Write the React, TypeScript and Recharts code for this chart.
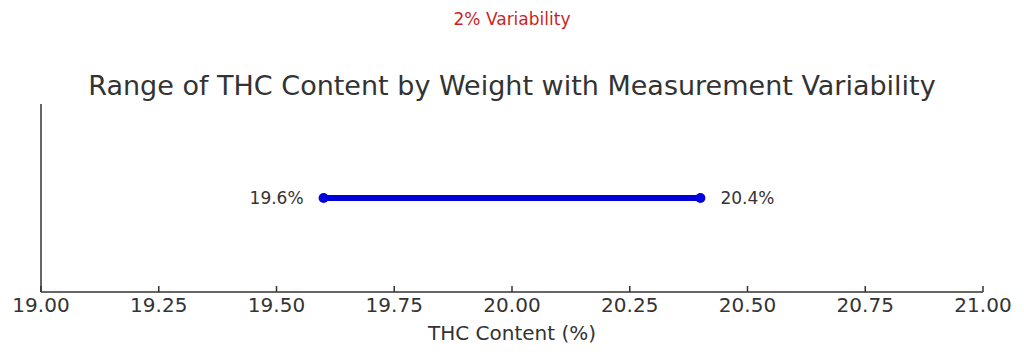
import React from 'react';
import { LineChart, Line, XAxis, YAxis, LabelList } from 'recharts';

const rangeLow = 19.6;
const rangeHigh = 20.4;
const rangeLabels = ['19.6%', '20.4%'];
const xTicks = [19, 19.25, 19.5, 19.75, 20, 20.25, 20.5, 20.75, 21];

const data = [
    { thc: rangeLow, row: 1, label: rangeLabels[0] },
    { thc: rangeHigh, row: 1, label: rangeLabels[1] },
];

const FONT = '"DejaVu Sans", sans-serif';
const INK = '#333333';

const EndLabel = (props: any) => {
    const { x, y, index, value } = props;
    const left = index === 0;
    return (
        <text
            x={left ? x - 20 : x + 20}
            y={y}
            dy="0.35em"
            textAnchor={left ? 'end' : 'start'}
            fontSize={17}
            fontFamily={FONT}
            fill={INK}
        >
            {value}
        </text>
    );
};

export default function App() {
    return (
        <div style={{ position: 'absolute', left: 0, top: 0, width: 1024, height: 357, background: '#fff', fontFamily: FONT }}>
            <div style={{ position: 'absolute', left: 0, width: 1024, top: 10, lineHeight: '18px', textAlign: 'center', fontSize: 17, color: '#cc1f1f' }}>
                2% Variability
            </div>
            <div style={{ position: 'absolute', left: 0, width: 1024, top: 71, lineHeight: '30px', textAlign: 'center', fontSize: 27, color: INK }}>
                Range of THC Content by Weight with Measurement Variability
            </div>
            <div style={{ position: 'absolute', left: 41, width: 942, top: 322, lineHeight: '22px', textAlign: 'center', fontSize: 20, color: INK }}>
                THC Content (%)
            </div>
            <LineChart width={1024} height={357} data={data} margin={{ top: 104, right: 41, bottom: 0, left: 40 }}>
                <XAxis
                    dataKey="thc"
                    type="number"
                    domain={[19, 21]}
                    ticks={xTicks}
                    tickFormatter={(v: number) => v.toFixed(2)}
                    interval={0}
                    height={65}
                    stroke={INK}
                    strokeWidth={1.5}
                    tickSize={-6}
                    tickMargin={12}
                    tick={{ fill: INK, fontSize: 20, fontFamily: FONT }}
                />
                <YAxis
                    dataKey="row"
                    type="number"
                    domain={[0, 2]}
                    width={1}
                    tick={false}
                    tickLine={false}
                    stroke={INK}
                    strokeWidth={1.5}
                />
                <Line
                    dataKey="row"
                    stroke="#0000dd"
                    strokeWidth={6}
                    dot={{ r: 5, fill: '#0000dd', stroke: 'none' }}
                    isAnimationActive={false}
                >
                    <LabelList dataKey="label" content={EndLabel} />
                </Line>
            </LineChart>
        </div>
    );
}
